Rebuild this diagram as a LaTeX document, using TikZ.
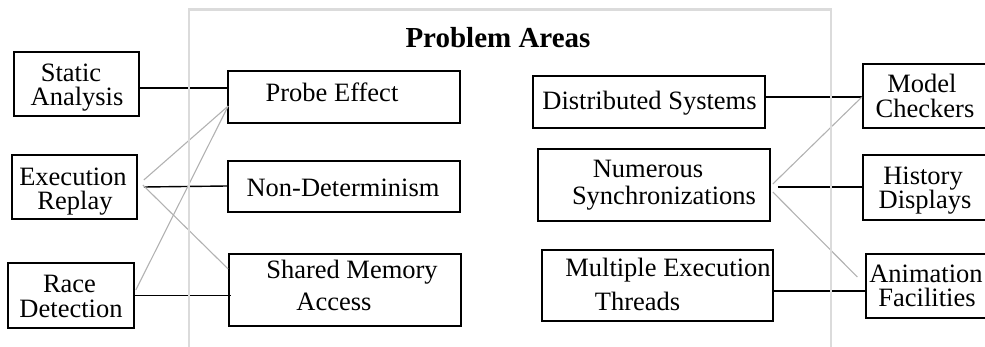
\documentclass[tikz,border=0pt]{standalone}
\usepackage{fontspec}
\setmainfont{Liberation Serif}
\begin{document}
\begin{tikzpicture}[x=1pt,y=-1pt,
  box/.style={draw=black,line width=1.6pt,inner sep=0pt,rectangle},
  txt/.style={anchor=base,inner sep=0pt,font=\fontsize{26.5}{28}\selectfont},
  conn/.style={black,line width=1.4pt},
  gconn/.style={black!30,line width=1.1pt},
  frame/.style={draw=black!14,line width=2.6pt}]
\useasboundingbox (0,0) rectangle (985,347);
% boxes
\node[box,minimum width=125pt,minimum height=64pt] (sa) at (76.5,84) {};
\node[box,minimum width=125pt,minimum height=64pt] (er) at (74.5,187) {};
\node[box,minimum width=126pt,minimum height=65pt] (rd) at (71,295.5) {};
\node[box,minimum width=232pt,minimum height=52pt] (pe) at (344,97) {};
\node[box,minimum width=232pt,minimum height=51pt] (nd) at (344,186.5) {};
\node[box,minimum width=232pt,minimum height=72pt] (sm) at (345,290) {};
\node[box,minimum width=232pt,minimum height=52pt] (ds) at (649,102) {};
\node[box,minimum width=232pt,minimum height=72pt] (ns) at (654,185) {};
\node[box,minimum width=231pt,minimum height=71pt] (me) at (657.5,285.5) {};
\node[box,minimum width=132.3pt,minimum height=64pt] (mc) at (928.85,96) {};
\node[box,minimum width=132pt,minimum height=65pt] (hd) at (929,187.5) {};
\node[box,minimum width=129.3pt,minimum height=64pt] (af) at (930.35,286) {};
% texts
\node[txt] (t1) at (71,82) {Static};
\node[txt] (t2) at (77,106) {Analysis};
\node[txt] (t3) at (73,186) {Execution};
\node[txt] (t4) at (75,210) {Replay};
\node[txt] (t5) at (69.5,293) {Race};
\node[txt] (t6) at (71,317) {Detection};
\node[txt] (t7) at (332,102) {Probe Effect};
\node[txt] (t8) at (343,197) {Non-Determinism};
\node[txt] (t9) at (352,279) {Shared Memory};
\node[txt] (t10) at (334,310) {Access};
\node[txt] (t11) at (649.5,110) {Distributed Systems};
\node[txt] (t12) at (648,178) {Numerous};
\node[txt] (t13) at (664,205) {Synchronizations};
\node[txt] (t14) at (668,277) {Multiple Execution};
\node[txt] (t15) at (637.5,310) {Threads};
\node[txt] (t16) at (922,93) {Model};
\node[txt] (t17) at (925,118) {Checkers};
\node[txt] (t18) at (923,185) {History};
\node[txt] (t19) at (925,209) {Displays};
\node[txt] (t20) at (926,283) {Animation};
\node[txt] (t21) at (927,307) {Facilities};
\node[anchor=base,inner sep=0pt,font=\fontsize{29}{30}\selectfont\bfseries] (title) at (498,48) {Problem Areas};
% connectors
\draw[conn] ([yshift=-4pt]sa.east) -- ([yshift=9pt]pe.west);
\draw[conn] ([xshift=6pt,yshift=0pt]er.east) -- ([yshift=0.5pt]nd.west);
\draw[gconn] ([xshift=6pt,yshift=7pt]er.east) -- ([xshift=1pt,yshift=-9pt]pe.west);
\draw[gconn] ([xshift=5pt,yshift=2pt]er.east) -- ([yshift=21pt]sm.west);
\draw[conn] (rd.east) -- ([xshift=3pt,yshift=-5.5pt]sm.west);
\draw[gconn] ([xshift=1pt,yshift=5.5pt]rd.east) -- ([xshift=1pt,yshift=-9pt]pe.west);
\draw[conn] ([yshift=5pt]ds.east) -- ([yshift=-1pt]mc.west);
\draw[conn] ([xshift=7pt,yshift=-2pt]ns.east) -- ([yshift=0.5pt]hd.west);
\draw[gconn] ([xshift=2pt,yshift=1pt]ns.east) -- ([yshift=-1pt]mc.west);
\draw[gconn] ([xshift=2pt,yshift=-7pt]ns.east) -- ([xshift=-7.5pt,yshift=9pt]af.west);
\draw[conn] ([yshift=-5.5pt]me.east) -- ([yshift=-5pt]af.west);
% frame
\draw[frame] (189,9.5) rectangle (831,370);
\end{tikzpicture}
\end{document}
